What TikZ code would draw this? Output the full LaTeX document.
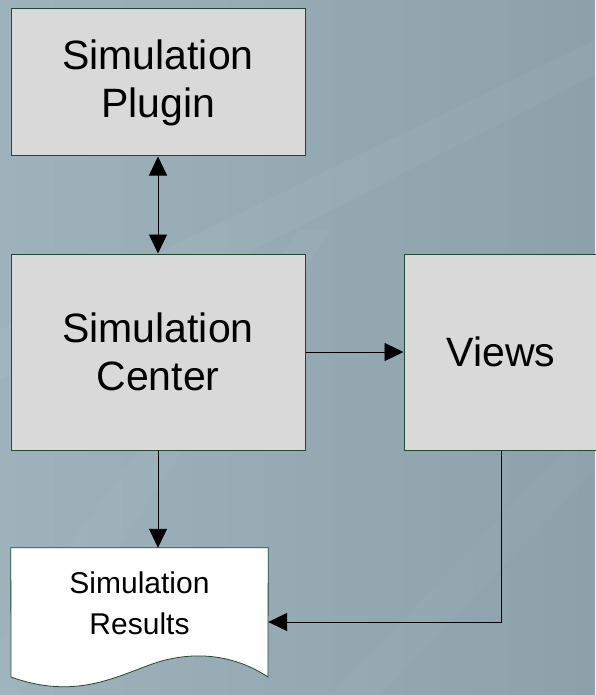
\documentclass[tikz,border=0pt]{standalone}
\usepackage{fontspec}
\setmainfont{Liberation Sans}
\usetikzlibrary{arrows.meta}
\definecolor{bgA}{HTML}{9DB2BB}
\definecolor{bgB}{HTML}{8CA1AA}
\definecolor{boxfill}{HTML}{D9D9D9}
\definecolor{boxline}{HTML}{1F4A2E}
\tikzset{
  procbox/.style={draw=boxline, line width=1pt, fill=boxfill, align=center,
    inner sep=0pt, font=\fontsize{41}{48}\selectfont},
  conn/.style={line width=0.9pt, -{Triangle[length=19pt,width=18pt]}},
  biconn/.style={line width=0.9pt, {Triangle[length=19pt,width=18pt]}-{Triangle[length=19pt,width=18pt]}},
}
\begin{document}
\begin{tikzpicture}[x=1pt,y=-1pt]
\useasboundingbox (0,0) rectangle (595,695);
% background
\shade[left color=bgA, right color=bgB] (0,0) rectangle (595,695);
\fill[white, opacity=0.04] (0,330) -- (595,40) -- (595,75) -- (0,380) -- cycle;
\fill[white, opacity=0.035] (0,640) -- (300,230) -- (330,230) -- (20,695) -- (0,695) -- cycle;
\fill[white, opacity=0.03] (330,695) -- (595,420) -- (595,470) -- (380,695) -- cycle;
% nodes
\node[procbox, minimum width=294pt, minimum height=147pt] (plugin) at (158,82.5) {Simulation\\Plugin};
\node[procbox, minimum width=294pt, minimum height=196pt] (center) at (158,352) {Simulation\\Center};
\node[procbox, minimum width=194pt, minimum height=196pt] (views) at (501,352) {Views};
\node[minimum width=257pt, minimum height=148pt, inner sep=0pt] (res) at (139.5,622) {};
\fill[white, draw=boxline, line width=0.8pt]
  (res.north west) -- (res.north east) -- (268,677)
  .. controls (235,655) and (195,650) .. (155,663)
  .. controls (115,677) and (75,700) .. (11,677) -- cycle;
\node[align=center, font=\fontsize{30}{41}\selectfont] (restext) at (139.5,603) {Simulation\\Results};
% connectors
\draw[biconn] (plugin.south) -- (center.north);
\draw[conn] (center.east) -- (views.west);
\draw[conn] (center.south) -- (center.south |- res.north);
\draw[conn] (views.south) |- (res.east);
\end{tikzpicture}
\end{document}
